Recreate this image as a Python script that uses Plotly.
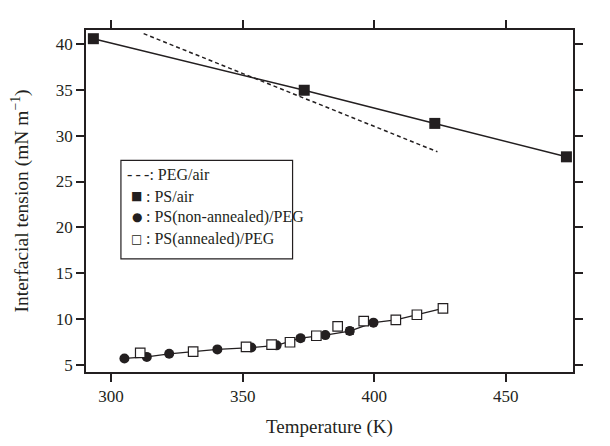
import plotly.graph_objects as go

# ---- data ----
T_ps_air = [293.3, 373.4, 423.0, 473.0]
g_ps_air = [40.6, 34.97, 31.35, 27.7]

T_peg_air = [312.4, 424.0]
g_peg_air = [41.15, 28.25]

T_non = [305.1, 313.6, 322.1, 340.4, 353.3, 362.9, 372.0, 381.4, 390.7, 399.7]
g_non = [5.68, 5.85, 6.19, 6.67, 6.87, 7.11, 7.89, 8.23, 8.67, 9.59]
err_non = [0, 0, 0, 0, 0, 0, 0.3, 0, 0.35, 0]

T_ann = [311.1, 331.2, 351.3, 361.0, 368.0, 378.0, 386.1, 396.0, 408.2, 416.2, 426.1]
g_ann = [6.29, 6.43, 6.94, 7.18, 7.45, 8.16, 9.18, 9.75, 9.9, 10.45, 11.15]

x_ticks = [300, 350, 400, 450]
y_ticks = [5, 10, 15, 20, 25, 30, 35, 40]

legend_labels = ["PEG/air", "PS/air", "PS(non-annealed)/PEG", "PS(annealed)/PEG"]
legend_symbols = ["-\u2009-\u2009-", "\u25A0", "\u25CF", "\u25A1"]

INK = "#231f20"
FONT = "Liberation Serif, Times New Roman, serif"

# the page body adds an 8 px margin; size the figure so it fits the 610x446 window
OFF = 8
W, H = 610 - OFF, 446 - OFF
ML, MR, MT, MB = 85 - OFF, 37, 25 - OFF, 67
PW, PH = W - ML - MR, H - MT - MB

def px(x):
    return (x - OFF - ML) / PW

def py(y):
    return 1 - (y - OFF - MT) / PH

# guide line for the PEG-interface points: circles, then the annealed points beyond them
line_T = T_non + [t for t in T_ann if t > max(T_non)]
line_g = g_non + [g for t, g in zip(T_ann, g_ann) if t > max(T_non)]

fig = go.Figure()
fig.add_trace(go.Scatter(x=T_peg_air, y=g_peg_air, mode="lines",
                         line=dict(color=INK, width=1.5, dash="4px,3px"),
                         showlegend=False, name="PEG/air"))
fig.add_trace(go.Scatter(x=T_ps_air, y=g_ps_air, mode="lines+markers",
                         line=dict(color=INK, width=1.5),
                         marker=dict(symbol="square", size=11, color=INK),
                         showlegend=False, name="PS/air"))
fig.add_trace(go.Scatter(x=line_T, y=line_g, mode="lines",
                         line=dict(color=INK, width=1.3),
                         showlegend=False, hoverinfo="skip"))
fig.add_trace(go.Scatter(x=T_non, y=g_non, mode="markers",
                         marker=dict(symbol="circle", size=10, color=INK),
                         error_y=dict(type="data", array=err_non, color=INK,
                                      thickness=1.5, width=4),
                         showlegend=False, name="PS(non-annealed)/PEG"))
fig.add_trace(go.Scatter(x=T_ann, y=g_ann, mode="markers",
                         marker=dict(symbol="square", size=9.5, color="white",
                                     line=dict(color=INK, width=1.2)),
                         showlegend=False, name="PS(annealed)/PEG"))

# legend box
fig.add_shape(type="rect", xref="paper", yref="paper",
              x0=px(120), x1=px(292), y0=py(262), y1=py(160),
              line=dict(color=INK, width=1.2), fillcolor="white", layer="above")
row_y = [175, 197, 219, 241]
for i, (sym, lab, ry) in enumerate(zip(legend_symbols, legend_labels, row_y)):
    if i == 0:
        fig.add_annotation(xref="paper", yref="paper", x=px(124), y=py(ry),
                           text=sym + ": " + lab, showarrow=False,
                           xanchor="left", yanchor="middle",
                           font=dict(family=FONT, size=16, color=INK))
    else:
        fig.add_annotation(xref="paper", yref="paper", x=px(136), y=py(ry),
                           text=sym, showarrow=False, xanchor="center", yanchor="middle",
                           font=dict(family="DejaVu Sans", size=12, color=INK))
        fig.add_annotation(xref="paper", yref="paper", x=px(143), y=py(ry),
                           text=": " + lab, showarrow=False, xanchor="left", yanchor="middle",
                           font=dict(family=FONT, size=16, color=INK))

axis_common = dict(showgrid=False, zeroline=False, showline=True, linecolor=INK,
                   linewidth=1.5, mirror="ticks", ticks="outside", ticklen=8,
                   tickwidth=1.5, tickcolor=INK,
                   tickfont=dict(family=FONT, size=17, color=INK))

fig.update_xaxes(range=[290.5, 475.5], tickvals=x_ticks,
                 title=dict(text="Temperature (K)", font=dict(family=FONT, size=19, color=INK),
                            standoff=15),
                 **axis_common)
fig.update_yaxes(range=[4.2, 41.55], tickvals=y_ticks,
                 title=dict(text="Interfacial tension (mN m<sup>\u22121</sup>)",
                            font=dict(family=FONT, size=19.5, color=INK), standoff=22),
                 **axis_common)

fig.update_layout(width=W, height=H, margin=dict(l=ML, r=MR, t=MT, b=MB),
                  plot_bgcolor="white", paper_bgcolor="white", showlegend=False)

fig.write_html("out.html")
